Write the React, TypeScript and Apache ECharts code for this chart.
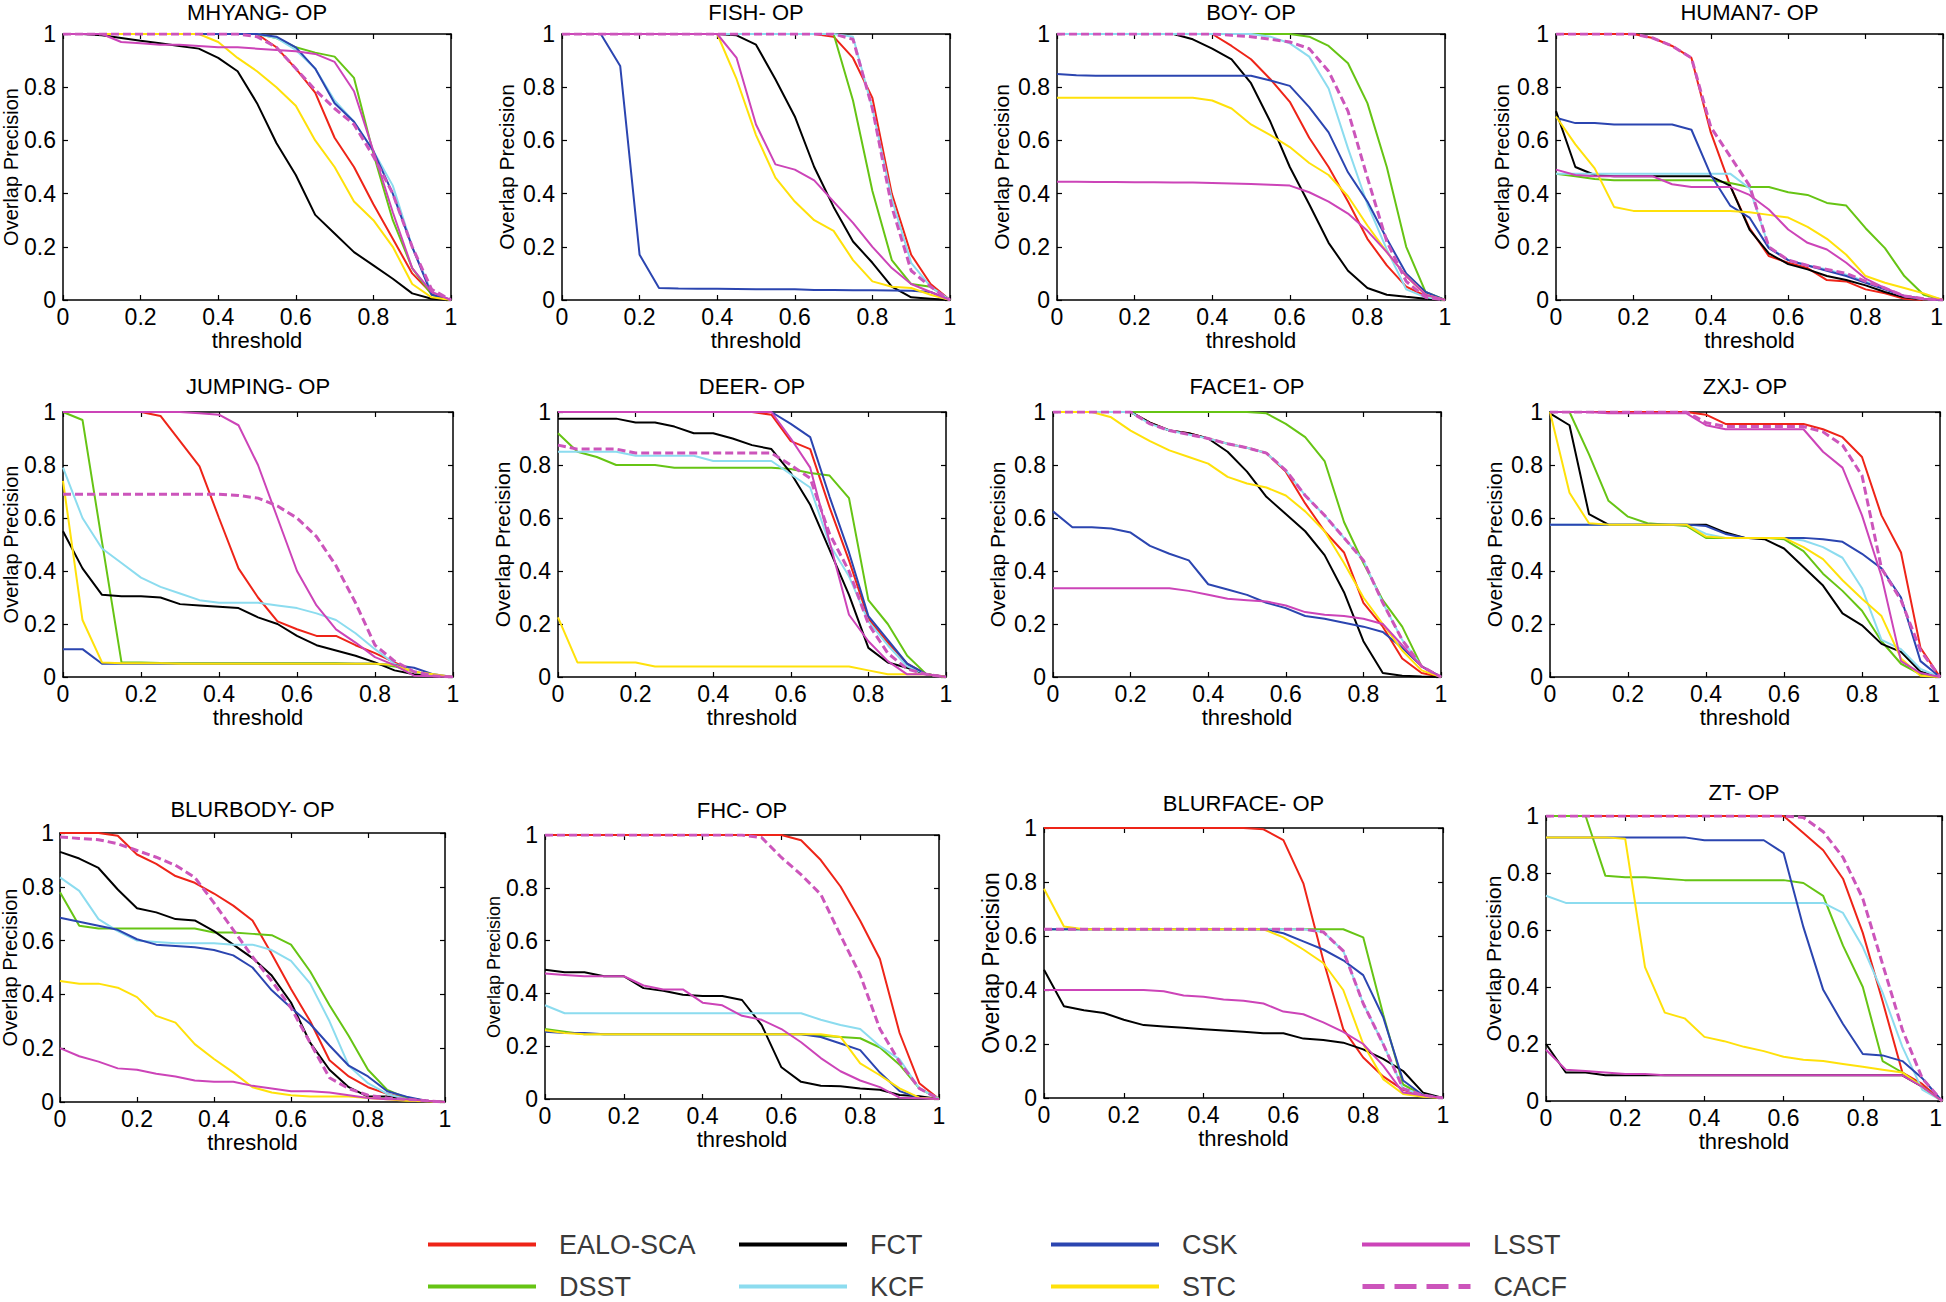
import React, { useEffect, useRef } from "react";
import * as echarts from "echarts";

// x values (overlap threshold)
const thresholds = [0, 0.05, 0.1, 0.15, 0.2, 0.25, 0.3, 0.35, 0.4, 0.45, 0.5, 0.55, 0.6, 0.65, 0.7, 0.75, 0.8, 0.85, 0.9, 0.95, 1];
const methods = ["EALO-SCA", "DSST", "FCT", "KCF", "CSK", "STC", "LSST", "CACF"];
const methodColors = ["#ee2418", "#66c414", "#000000", "#8cdcef", "#2b45b0", "#ffe10a", "#cc44b8", "#cc55bb"];
const titles = ["MHYANG- OP", "FISH- OP", "BOY- OP", "HUMAN7- OP", "JUMPING- OP", "DEER- OP", "FACE1- OP", "ZXJ- OP", "BLURBODY- OP", "FHC- OP", "BLURFACE- OP", "ZT- OP"];

// rows: EALO-SCA, DSST, FCT, KCF, CSK, STC, LSST, CACF
const MHYANG = [
  [1, 1, 1, 1, 1, 1, 1, 1, 1, 1, 1, 0.95, 0.87, 0.78, 0.61, 0.5, 0.36, 0.23, 0.1, 0.025, 0],
  [1, 1, 1, 1, 1, 1, 1, 1, 1, 1, 1, 0.985, 0.95, 0.93, 0.915, 0.835, 0.55, 0.3, 0.12, 0.02, 0],
  [1, 1, 0.995, 0.985, 0.975, 0.965, 0.955, 0.945, 0.91, 0.86, 0.74, 0.59, 0.47, 0.32, 0.25, 0.18, 0.13, 0.08, 0.025, 0.005, 0],
  [1, 1, 1, 1, 1, 1, 1, 1, 1, 1, 1, 0.985, 0.94, 0.87, 0.75, 0.67, 0.56, 0.43, 0.2, 0.03, 0],
  [1, 1, 1, 1, 1, 1, 1, 1, 1, 1, 1, 0.99, 0.95, 0.87, 0.74, 0.67, 0.56, 0.4, 0.2, 0.02, 0],
  [1, 1, 1, 1, 1, 1, 1, 1, 0.97, 0.91, 0.86, 0.8, 0.73, 0.6, 0.5, 0.37, 0.3, 0.2, 0.06, 0.01, 0],
  [1, 1, 1, 0.97, 0.965, 0.96, 0.96, 0.955, 0.95, 0.95, 0.945, 0.94, 0.935, 0.925, 0.895, 0.785, 0.56, 0.33, 0.12, 0.03, 0],
  [1, 1, 1, 1, 1, 1, 1, 1, 1, 1, 0.99, 0.95, 0.87, 0.79, 0.72, 0.66, 0.54, 0.4, 0.2, 0.04, 0],
];
const FISH = [
  [1, 1, 1, 1, 1, 1, 1, 1, 1, 1, 1, 1, 1, 1, 0.99, 0.91, 0.76, 0.4, 0.17, 0.06, 0],
  [1, 1, 1, 1, 1, 1, 1, 1, 1, 1, 1, 1, 1, 1, 1, 0.75, 0.41, 0.15, 0.06, 0.05, 0],
  [1, 1, 1, 1, 1, 1, 1, 1, 1, 0.995, 0.96, 0.83, 0.69, 0.5, 0.35, 0.22, 0.14, 0.05, 0.01, 0.005, 0],
  [1, 1, 1, 1, 1, 1, 1, 1, 1, 1, 1, 1, 1, 1, 1, 0.99, 0.72, 0.38, 0.14, 0.05, 0],
  [1, 1, 1, 0.88, 0.17, 0.045, 0.043, 0.042, 0.042, 0.041, 0.04, 0.04, 0.04, 0.038, 0.038, 0.037, 0.037, 0.036, 0.035, 0.03, 0],
  [1, 1, 1, 1, 1, 1, 1, 1, 1, 0.83, 0.62, 0.46, 0.37, 0.3, 0.26, 0.15, 0.07, 0.05, 0.045, 0.02, 0],
  [1, 1, 1, 1, 1, 1, 1, 1, 1, 0.91, 0.66, 0.51, 0.49, 0.45, 0.37, 0.29, 0.2, 0.12, 0.06, 0.03, 0],
  [1, 1, 1, 1, 1, 1, 1, 1, 1, 1, 1, 1, 1, 1, 1, 0.98, 0.72, 0.35, 0.11, 0.05, 0],
];
const BOY = [
  [1, 1, 1, 1, 1, 1, 1, 1, 1, 0.955, 0.905, 0.83, 0.745, 0.61, 0.5, 0.37, 0.23, 0.13, 0.05, 0.015, 0],
  [1, 1, 1, 1, 1, 1, 1, 1, 1, 1, 1, 1, 1, 0.99, 0.955, 0.89, 0.74, 0.5, 0.2, 0.03, 0],
  [1, 1, 1, 1, 1, 1, 1, 0.98, 0.945, 0.905, 0.815, 0.67, 0.5, 0.36, 0.215, 0.11, 0.045, 0.02, 0.012, 0.005, 0],
  [1, 1, 1, 1, 1, 1, 1, 1, 1, 1, 1, 0.99, 0.965, 0.915, 0.795, 0.57, 0.36, 0.19, 0.04, 0.01, 0],
  [0.85, 0.845, 0.843, 0.843, 0.843, 0.843, 0.843, 0.843, 0.843, 0.843, 0.843, 0.825, 0.805, 0.725, 0.63, 0.48, 0.37, 0.23, 0.1, 0.03, 0],
  [0.76, 0.76, 0.76, 0.76, 0.76, 0.76, 0.76, 0.76, 0.75, 0.72, 0.66, 0.62, 0.575, 0.515, 0.47, 0.39, 0.28, 0.18, 0.09, 0.02, 0],
  [0.445, 0.445, 0.444, 0.444, 0.443, 0.443, 0.442, 0.442, 0.44, 0.438, 0.436, 0.433, 0.43, 0.405, 0.37, 0.325, 0.26, 0.18, 0.09, 0.02, 0],
  [1, 1, 1, 1, 1, 1, 1, 1, 1, 0.995, 0.99, 0.98, 0.97, 0.945, 0.86, 0.71, 0.46, 0.22, 0.07, 0.01, 0],
];
const HUMAN7 = [
  [1, 1, 1, 1, 1, 0.985, 0.955, 0.91, 0.63, 0.43, 0.27, 0.165, 0.14, 0.12, 0.075, 0.07, 0.04, 0.025, 0.005, 0, 0],
  [0.475, 0.465, 0.455, 0.45, 0.45, 0.45, 0.45, 0.45, 0.45, 0.44, 0.425, 0.425, 0.405, 0.395, 0.365, 0.355, 0.27, 0.195, 0.09, 0.02, 0],
  [0.71, 0.5, 0.47, 0.465, 0.465, 0.465, 0.465, 0.465, 0.465, 0.43, 0.265, 0.175, 0.135, 0.115, 0.09, 0.075, 0.055, 0.03, 0.01, 0.002, 0],
  [0.475, 0.475, 0.475, 0.475, 0.475, 0.475, 0.475, 0.475, 0.475, 0.475, 0.42, 0.2, 0.15, 0.13, 0.115, 0.095, 0.07, 0.04, 0.015, 0.003, 0],
  [0.685, 0.665, 0.665, 0.66, 0.66, 0.66, 0.66, 0.64, 0.47, 0.355, 0.31, 0.195, 0.15, 0.13, 0.11, 0.09, 0.065, 0.04, 0.015, 0.005, 0],
  [0.69, 0.585, 0.495, 0.35, 0.335, 0.335, 0.335, 0.335, 0.335, 0.335, 0.33, 0.32, 0.31, 0.275, 0.23, 0.17, 0.09, 0.065, 0.045, 0.025, 0],
  [0.49, 0.47, 0.465, 0.465, 0.465, 0.465, 0.435, 0.425, 0.425, 0.425, 0.395, 0.34, 0.265, 0.215, 0.19, 0.14, 0.08, 0.045, 0.015, 0.005, 0],
  [1, 1, 1, 1, 1, 0.985, 0.955, 0.91, 0.65, 0.54, 0.43, 0.2, 0.15, 0.13, 0.115, 0.1, 0.07, 0.045, 0.015, 0.005, 0],
];
const JUMPING = [
  [1, 1, 1, 1, 1, 0.985, 0.89, 0.795, 0.6, 0.41, 0.3, 0.21, 0.18, 0.155, 0.155, 0.12, 0.09, 0.055, 0.02, 0.005, 0],
  [1, 0.97, 0.51, 0.055, 0.055, 0.053, 0.052, 0.052, 0.052, 0.052, 0.052, 0.052, 0.052, 0.052, 0.052, 0.05, 0.05, 0.04, 0.02, 0.005, 0],
  [0.55, 0.41, 0.31, 0.305, 0.305, 0.3, 0.275, 0.27, 0.265, 0.26, 0.225, 0.2, 0.155, 0.12, 0.1, 0.08, 0.055, 0.025, 0.01, 0.003, 0],
  [0.79, 0.6, 0.485, 0.43, 0.375, 0.34, 0.315, 0.29, 0.28, 0.28, 0.28, 0.27, 0.26, 0.24, 0.215, 0.165, 0.105, 0.05, 0.02, 0.005, 0],
  [0.105, 0.105, 0.05, 0.05, 0.05, 0.05, 0.05, 0.05, 0.05, 0.05, 0.05, 0.05, 0.05, 0.05, 0.05, 0.05, 0.05, 0.045, 0.035, 0.01, 0],
  [0.74, 0.215, 0.055, 0.052, 0.052, 0.052, 0.05, 0.05, 0.05, 0.05, 0.05, 0.05, 0.05, 0.05, 0.05, 0.05, 0.05, 0.045, 0.02, 0.01, 0],
  [1, 1, 1, 1, 1, 1, 1, 0.995, 0.99, 0.95, 0.8, 0.6, 0.4, 0.27, 0.18, 0.13, 0.075, 0.045, 0.005, 0.003, 0],
  [0.69, 0.69, 0.69, 0.69, 0.69, 0.69, 0.69, 0.69, 0.69, 0.685, 0.675, 0.645, 0.6, 0.53, 0.42, 0.28, 0.12, 0.06, 0.02, 0.005, 0],
];
const DEER = [
  [1, 1, 1, 1, 1, 1, 1, 1, 1, 1, 1, 0.99, 0.89, 0.86, 0.64, 0.44, 0.22, 0.13, 0.05, 0.01, 0],
  [0.92, 0.85, 0.83, 0.8, 0.8, 0.8, 0.79, 0.79, 0.79, 0.79, 0.79, 0.79, 0.785, 0.77, 0.76, 0.675, 0.29, 0.2, 0.08, 0.01, 0],
  [0.975, 0.975, 0.975, 0.975, 0.96, 0.96, 0.945, 0.92, 0.92, 0.9, 0.875, 0.86, 0.77, 0.65, 0.48, 0.31, 0.11, 0.055, 0.035, 0.01, 0],
  [0.85, 0.85, 0.85, 0.85, 0.835, 0.835, 0.835, 0.835, 0.815, 0.815, 0.815, 0.815, 0.765, 0.715, 0.5, 0.38, 0.21, 0.12, 0.04, 0.01, 0],
  [1, 1, 1, 1, 1, 1, 1, 1, 1, 1, 1, 1, 0.955, 0.905, 0.68, 0.47, 0.23, 0.14, 0.05, 0.01, 0],
  [0.225, 0.055, 0.055, 0.055, 0.055, 0.04, 0.04, 0.04, 0.04, 0.04, 0.04, 0.04, 0.04, 0.04, 0.04, 0.04, 0.025, 0.01, 0.01, 0.01, 0],
  [1, 1, 1, 1, 1, 1, 1, 1, 1, 1, 1, 1, 0.9, 0.79, 0.51, 0.235, 0.135, 0.06, 0.01, 0.01, 0],
  [0.875, 0.86, 0.86, 0.86, 0.845, 0.845, 0.845, 0.845, 0.845, 0.845, 0.845, 0.845, 0.8, 0.75, 0.54, 0.4, 0.2, 0.09, 0.03, 0.01, 0],
];
const FACE1 = [
  [1, 1, 1, 1, 1, 0.96, 0.93, 0.92, 0.9, 0.88, 0.865, 0.845, 0.775, 0.655, 0.55, 0.47, 0.28, 0.19, 0.07, 0.015, 0],
  [1, 1, 1, 1, 1, 1, 1, 1, 1, 1, 1, 0.995, 0.955, 0.905, 0.815, 0.585, 0.43, 0.29, 0.19, 0.04, 0],
  [1, 1, 1, 1, 1, 0.96, 0.93, 0.92, 0.9, 0.85, 0.775, 0.68, 0.615, 0.55, 0.46, 0.32, 0.135, 0.015, 0.005, 0.002, 0],
  [1, 1, 1, 1, 1, 0.955, 0.93, 0.915, 0.9, 0.88, 0.865, 0.845, 0.78, 0.685, 0.61, 0.525, 0.44, 0.28, 0.14, 0.04, 0],
  [0.625, 0.565, 0.565, 0.56, 0.545, 0.495, 0.465, 0.44, 0.35, 0.33, 0.31, 0.28, 0.26, 0.23, 0.22, 0.205, 0.19, 0.17, 0.11, 0.04, 0],
  [1, 1, 1, 0.98, 0.93, 0.89, 0.855, 0.83, 0.805, 0.755, 0.73, 0.715, 0.685, 0.625, 0.55, 0.43, 0.3, 0.2, 0.1, 0.025, 0],
  [0.335, 0.335, 0.335, 0.335, 0.335, 0.335, 0.335, 0.325, 0.31, 0.295, 0.29, 0.285, 0.27, 0.245, 0.235, 0.23, 0.22, 0.2, 0.12, 0.04, 0],
  [1, 1, 1, 1, 1, 0.955, 0.93, 0.915, 0.9, 0.88, 0.865, 0.845, 0.78, 0.685, 0.61, 0.525, 0.44, 0.28, 0.14, 0.04, 0],
];
const ZXJ = [
  [1, 1, 1, 1, 1, 1, 1, 1, 0.99, 0.955, 0.955, 0.955, 0.955, 0.955, 0.935, 0.905, 0.83, 0.61, 0.47, 0.11, 0],
  [1, 1, 0.84, 0.665, 0.605, 0.58, 0.575, 0.57, 0.525, 0.525, 0.525, 0.525, 0.52, 0.475, 0.39, 0.325, 0.25, 0.135, 0.05, 0.01, 0],
  [0.995, 0.95, 0.615, 0.575, 0.575, 0.575, 0.575, 0.575, 0.575, 0.545, 0.525, 0.52, 0.485, 0.415, 0.345, 0.24, 0.195, 0.125, 0.095, 0.02, 0],
  [0.575, 0.575, 0.575, 0.575, 0.575, 0.575, 0.575, 0.575, 0.54, 0.525, 0.525, 0.525, 0.525, 0.515, 0.49, 0.45, 0.335, 0.14, 0.105, 0.03, 0],
  [0.575, 0.575, 0.575, 0.575, 0.575, 0.575, 0.575, 0.575, 0.57, 0.54, 0.525, 0.525, 0.525, 0.525, 0.52, 0.51, 0.465, 0.41, 0.3, 0.06, 0],
  [1, 0.695, 0.58, 0.575, 0.575, 0.575, 0.575, 0.575, 0.53, 0.525, 0.525, 0.525, 0.525, 0.49, 0.445, 0.365, 0.295, 0.23, 0.07, 0.005, 0],
  [1, 1, 1, 0.995, 0.995, 0.995, 0.995, 0.995, 0.95, 0.935, 0.935, 0.935, 0.935, 0.935, 0.85, 0.79, 0.61, 0.38, 0.06, 0.015, 0],
  [1, 1, 1, 1, 1, 1, 1, 1, 0.96, 0.945, 0.945, 0.945, 0.945, 0.945, 0.925, 0.875, 0.76, 0.41, 0.29, 0.1, 0],
];
const BLURBODY = [
  [1, 1, 1, 0.99, 0.92, 0.885, 0.84, 0.815, 0.775, 0.73, 0.675, 0.55, 0.42, 0.3, 0.155, 0.095, 0.055, 0.03, 0.015, 0.005, 0],
  [0.78, 0.655, 0.645, 0.645, 0.645, 0.645, 0.645, 0.645, 0.63, 0.63, 0.625, 0.62, 0.585, 0.485, 0.36, 0.245, 0.12, 0.045, 0.015, 0.005, 0],
  [0.93, 0.905, 0.87, 0.79, 0.72, 0.705, 0.68, 0.675, 0.635, 0.585, 0.535, 0.47, 0.37, 0.22, 0.12, 0.055, 0.02, 0.02, 0.01, 0.005, 0],
  [0.835, 0.785, 0.68, 0.635, 0.6, 0.595, 0.59, 0.59, 0.59, 0.585, 0.585, 0.565, 0.525, 0.44, 0.3, 0.135, 0.07, 0.03, 0.01, 0.005, 0],
  [0.685, 0.67, 0.655, 0.64, 0.605, 0.585, 0.58, 0.575, 0.565, 0.545, 0.5, 0.415, 0.35, 0.29, 0.21, 0.135, 0.095, 0.04, 0.02, 0.005, 0],
  [0.45, 0.44, 0.44, 0.425, 0.39, 0.32, 0.295, 0.215, 0.16, 0.11, 0.055, 0.035, 0.025, 0.02, 0.02, 0.02, 0.015, 0.01, 0.005, 0.003, 0],
  [0.2, 0.17, 0.15, 0.125, 0.12, 0.105, 0.095, 0.08, 0.075, 0.075, 0.06, 0.05, 0.04, 0.04, 0.035, 0.025, 0.015, 0.01, 0.01, 0.005, 0],
  [0.985, 0.98, 0.975, 0.96, 0.935, 0.91, 0.88, 0.835, 0.74, 0.64, 0.54, 0.45, 0.35, 0.22, 0.09, 0.05, 0.025, 0.015, 0.01, 0.005, 0],
];
const FHC = [
  [1, 1, 1, 1, 1, 1, 1, 1, 1, 1, 1, 1, 1, 0.98, 0.905, 0.805, 0.675, 0.53, 0.25, 0.06, 0],
  [0.265, 0.255, 0.245, 0.245, 0.245, 0.245, 0.245, 0.245, 0.245, 0.245, 0.245, 0.245, 0.245, 0.245, 0.24, 0.235, 0.23, 0.195, 0.13, 0.04, 0],
  [0.49, 0.48, 0.48, 0.465, 0.465, 0.42, 0.41, 0.395, 0.39, 0.39, 0.375, 0.28, 0.12, 0.065, 0.05, 0.048, 0.04, 0.035, 0.015, 0.01, 0],
  [0.355, 0.325, 0.325, 0.325, 0.325, 0.325, 0.325, 0.325, 0.325, 0.325, 0.325, 0.325, 0.325, 0.325, 0.3, 0.28, 0.265, 0.2, 0.15, 0.04, 0],
  [0.255, 0.25, 0.25, 0.245, 0.245, 0.245, 0.245, 0.245, 0.245, 0.245, 0.245, 0.245, 0.245, 0.245, 0.235, 0.21, 0.185, 0.1, 0.03, 0.005, 0],
  [0.26, 0.25, 0.245, 0.245, 0.245, 0.245, 0.245, 0.245, 0.245, 0.245, 0.245, 0.245, 0.245, 0.245, 0.245, 0.235, 0.135, 0.09, 0.04, 0.005, 0],
  [0.475, 0.47, 0.465, 0.465, 0.465, 0.43, 0.415, 0.415, 0.365, 0.355, 0.315, 0.3, 0.265, 0.215, 0.155, 0.105, 0.07, 0.045, 0.005, 0.003, 0],
  [1, 1, 1, 1, 1, 1, 1, 1, 1, 1, 1, 0.99, 0.915, 0.85, 0.775, 0.62, 0.47, 0.265, 0.14, 0.04, 0],
];
const BLURFACE = [
  [1, 1, 1, 1, 1, 1, 1, 1, 1, 1, 1, 0.995, 0.955, 0.795, 0.51, 0.255, 0.15, 0.08, 0.03, 0.01, 0],
  [0.625, 0.625, 0.625, 0.625, 0.625, 0.625, 0.625, 0.625, 0.625, 0.625, 0.625, 0.625, 0.625, 0.625, 0.625, 0.625, 0.595, 0.31, 0.05, 0.01, 0],
  [0.475, 0.34, 0.325, 0.315, 0.29, 0.27, 0.265, 0.26, 0.255, 0.25, 0.245, 0.24, 0.24, 0.22, 0.215, 0.205, 0.18, 0.145, 0.1, 0.02, 0],
  [0.625, 0.625, 0.625, 0.625, 0.625, 0.625, 0.625, 0.625, 0.625, 0.625, 0.625, 0.625, 0.625, 0.625, 0.615, 0.545, 0.35, 0.2, 0.035, 0.01, 0],
  [0.625, 0.625, 0.625, 0.625, 0.625, 0.625, 0.625, 0.625, 0.625, 0.625, 0.625, 0.625, 0.61, 0.58, 0.55, 0.51, 0.455, 0.3, 0.065, 0.01, 0],
  [0.775, 0.635, 0.625, 0.625, 0.625, 0.625, 0.625, 0.625, 0.625, 0.625, 0.625, 0.625, 0.595, 0.55, 0.5, 0.4, 0.2, 0.07, 0.015, 0.005, 0],
  [0.4, 0.4, 0.4, 0.4, 0.4, 0.4, 0.395, 0.38, 0.375, 0.365, 0.36, 0.35, 0.32, 0.31, 0.28, 0.245, 0.2, 0.12, 0.02, 0.01, 0],
  [0.625, 0.625, 0.625, 0.625, 0.625, 0.625, 0.625, 0.625, 0.625, 0.625, 0.625, 0.625, 0.625, 0.625, 0.615, 0.545, 0.35, 0.2, 0.035, 0.01, 0],
];
const ZT = [
  [1, 1, 1, 1, 1, 1, 1, 1, 1, 1, 1, 1, 1, 0.94, 0.88, 0.78, 0.59, 0.35, 0.1, 0.06, 0],
  [1, 1, 1, 0.79, 0.785, 0.785, 0.78, 0.775, 0.775, 0.775, 0.775, 0.775, 0.775, 0.765, 0.72, 0.545, 0.4, 0.14, 0.1, 0.05, 0],
  [0.2, 0.1, 0.1, 0.09, 0.09, 0.09, 0.09, 0.09, 0.09, 0.09, 0.09, 0.09, 0.09, 0.09, 0.09, 0.09, 0.09, 0.09, 0.09, 0.05, 0],
  [0.72, 0.695, 0.695, 0.695, 0.695, 0.695, 0.695, 0.695, 0.695, 0.695, 0.695, 0.695, 0.695, 0.695, 0.695, 0.66, 0.54, 0.38, 0.19, 0.04, 0],
  [0.925, 0.925, 0.925, 0.925, 0.925, 0.925, 0.925, 0.925, 0.915, 0.915, 0.915, 0.915, 0.87, 0.61, 0.39, 0.27, 0.165, 0.16, 0.14, 0.08, 0],
  [0.925, 0.925, 0.925, 0.925, 0.92, 0.47, 0.31, 0.29, 0.225, 0.21, 0.19, 0.175, 0.155, 0.145, 0.14, 0.13, 0.12, 0.11, 0.1, 0.05, 0],
  [0.18, 0.11, 0.105, 0.1, 0.095, 0.095, 0.09, 0.09, 0.09, 0.09, 0.09, 0.09, 0.09, 0.09, 0.09, 0.09, 0.09, 0.09, 0.09, 0.05, 0],
  [1, 1, 1, 1, 1, 1, 1, 1, 1, 1, 1, 1, 1, 0.995, 0.945, 0.855, 0.71, 0.48, 0.25, 0.08, 0],
];

const sequences = [MHYANG, FISH, BOY, HUMAN7, JUMPING, DEER, FACE1, ZXJ, BLURBODY, FHC, BLURFACE, ZT];

// layout of each panel: [left, top, width, height, titleCenterY, yNameGap, yNameSize, yLabelMargin]
const panels = [
  [63, 34, 388, 266, 12, 42, 20, 7],
  [562, 34, 388, 266, 12, 45, 21, 7],
  [1057, 34, 388, 266, 12, 45, 21, 7],
  [1556, 34, 387, 266, 12, 44, 21, 7],
  [63, 412, 390, 265, 386, 42, 20, 7],
  [558, 412, 388, 265, 386, 45, 21, 7],
  [1053, 412, 388, 265, 386, 45, 21, 7],
  [1550, 412, 390, 265, 386, 45, 21, 7],
  [60, 833, 385, 269, 809, 40, 20, 6],
  [545, 835, 394, 264, 810, 42, 18, 7],
  [1044, 828, 399, 270, 803, 42, 23, 7],
  [1546, 816, 396, 285, 792, 42, 21, 7],
];

const FONT = "'Liberation Sans', Arial, Helvetica, sans-serif";
// legend slots: column lefts and row tops
const legendLefts = [426, 737, 1049, 1360];
const legendTops = [1231, 1273];
const PAGE_W = 1946;

function buildOption() {
  const grid: any[] = [];
  const xAxis: any[] = [];
  const yAxis: any[] = [];
  const series: any[] = [];
  const graphic: any[] = [];

  panels.forEach((p, i) => {
    const [left, top, width, height, titleY, yGap, ySize, yMargin] = p;
    grid.push({ left, top, width, height, show: false, outerBoundsMode: "none", containLabel: false });
    const common = {
      type: "value",
      gridIndex: i,
      min: 0,
      max: 1,
      interval: 0.2,
      splitLine: { show: false },
      axisLine: { show: true, onZero: false, lineStyle: { color: "#000", width: 1.5 } },
      axisTick: { show: true, inside: true, length: 5, lineStyle: { color: "#000", width: 1.2 } },
    };
    const nearRightEdge = left + width > PAGE_W - 10;
    xAxis.push({
      ...common,
      position: "bottom",
      axisLabel: {
        show: true,
        fontSize: 23,
        color: "#000",
        margin: 5,
        fontFamily: FONT,
        alignMaxLabel: nearRightEdge ? "right" : undefined,
      },
      name: "threshold",
      nameLocation: "middle",
      nameGap: 29,
      nameMoveOverlap: false,
      nameTextStyle: { fontSize: 22, color: "#000", fontFamily: FONT },
    });
    xAxis.push({ ...common, position: "top", axisLabel: { show: false } });
    yAxis.push({
      ...common,
      position: "left",
      axisLabel: { show: true, fontSize: 23, color: "#000", margin: yMargin, fontFamily: FONT },
      name: "Overlap Precision",
      nameLocation: "middle",
      nameGap: yGap,
      nameMoveOverlap: false,
      nameTextStyle: { fontSize: ySize, color: "#000", fontFamily: FONT },
    });
    yAxis.push({ ...common, position: "right", axisLabel: { show: false } });

    const seq = sequences[i];
    methods.forEach((m, k) => {
      series.push({
        type: "line",
        name: m,
        xAxisIndex: 2 * i,
        yAxisIndex: 2 * i,
        data: thresholds.map((x, j) => [x, seq[k][j]]),
        symbol: "none",
        silent: true,
        lineStyle: {
          color: methodColors[k],
          width: k === 7 ? 3 : 2,
          type: k === 7 ? [8, 4] : "solid",
        },
        itemStyle: { color: methodColors[k] },
        emphasis: { disabled: true },
      });
    });

    graphic.push({
      type: "text",
      x: left + width / 2,
      y: titleY,
      style: {
        text: titles[i],
        fontSize: 22,
        fontFamily: FONT,
        fill: "#000",
        textAlign: "center",
        align: "center",
        textVerticalAlign: "middle",
        verticalAlign: "middle",
      },
    });
  });

  const legend = methods.map((name, k) => {
    const col = Math.floor(k / 2);
    const row = k % 2;
    return {
      orient: "horizontal",
      left: legendLefts[col],
      top: legendTops[row],
      itemWidth: 108,
      itemHeight: 14,
      selectedMode: false,
      padding: 0,
      textStyle: { fontSize: 27, color: "#3a3a3a", fontFamily: FONT, padding: [0, 0, 0, 18] },
      itemStyle: { color: "rgba(0,0,0,0)", borderColor: "rgba(0,0,0,0)", borderWidth: 0, opacity: 0 },
      lineStyle: name === "CACF" ? { width: 5, type: [22, 10] } : { width: 4 },
      data: [name],
    };
  });

  return {
    animation: false,
    backgroundColor: "#fff",
    textStyle: { fontFamily: FONT },
    grid,
    xAxis,
    yAxis,
    series,
    graphic,
    legend,
    tooltip: { show: false },
  };
}

export default function App() {
  const ref = useRef<HTMLDivElement>(null);
  useEffect(() => {
    document.body.style.margin = "0";
    if (!ref.current) return;
    const chart = echarts.init(ref.current, null, { renderer: "svg" });
    chart.setOption(buildOption() as any);
    return () => chart.dispose();
  }, []);
  return <div ref={ref} style={{ width: 1946, height: 1302 }} />;
}
